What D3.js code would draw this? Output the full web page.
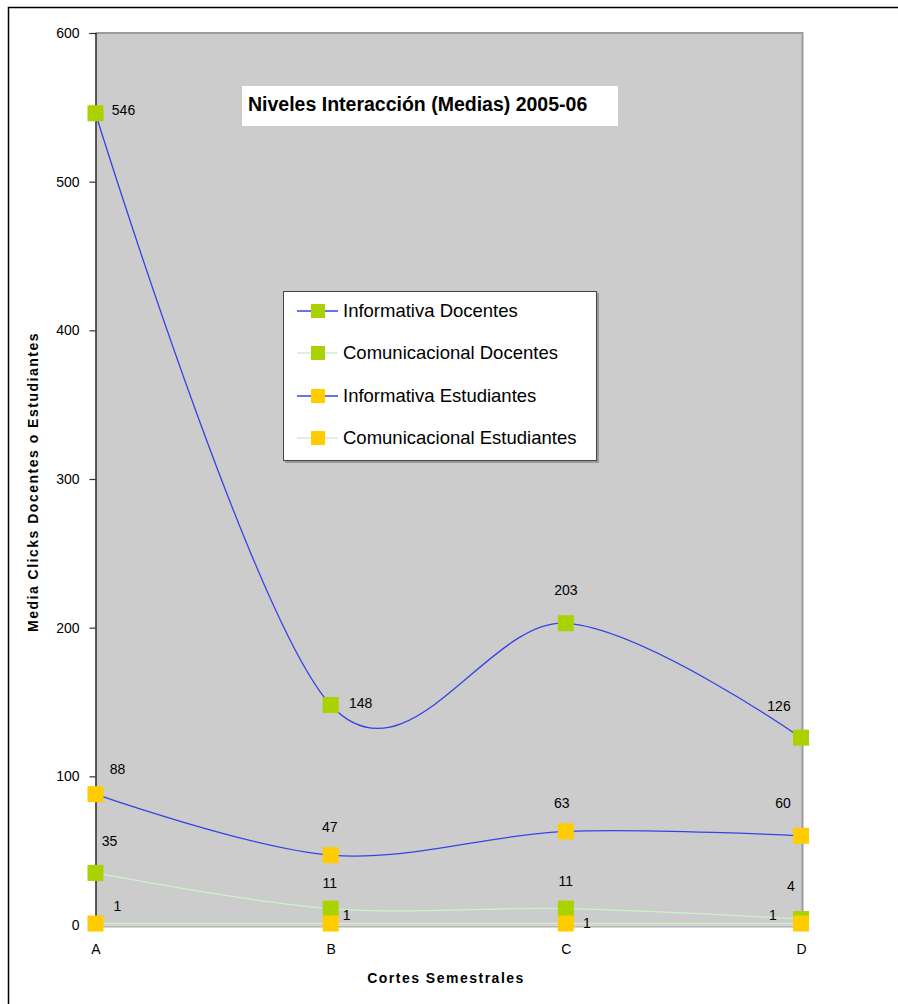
<!DOCTYPE html>
<html>
<head>
<meta charset="utf-8">
<script src="https://cdn.jsdelivr.net/npm/d3@7/dist/d3.min.js"></script>
<style>
  html, body { margin: 0; padding: 0; background: #fff; }
  svg { display: block; font-family: "Liberation Sans", Arial, sans-serif; }
</style>
</head>
<body>
<svg id="chart" width="898" height="1004"></svg>
<script>
// Semester cuts and mean clicks per interaction type
const categories = ["A", "B", "C", "D"];
const informativaDocentes = [546, 148, 203, 126];
const comunicacionalDocentes = [35, 11, 11, 4];
const informativaEstudiantes = [88, 47, 63, 60];
const comunicacionalEstudiantes = [1, 1, 1, 1];
const yTicks = [0, 100, 200, 300, 400, 500, 600];

const seriesNames = [
  "Informativa Docentes",
  "Comunicacional Docentes",
  "Informativa Estudiantes",
  "Comunicacional Estudiantes"
];
const seriesValues = [informativaDocentes, comunicacionalDocentes, informativaEstudiantes, comunicacionalEstudiantes];

// Styling per series
const lineColors = ["#3344E6", "#CCF2CC", "#3344E6", "#D4EEC4"];
const markerColors = ["#AAD200", "#AAD200", "#FFCC00", "#FFCC00"];
// Label offsets (dx, dy) from each marker centre
const labelOffsets = [
  [[28, -3], [30, -2], [0, -33], [-22, -32]],
  [[14, -32], [-1, -26], [0, -28], [-10, -33]],
  [[22, -25], [-1, -28], [-4, -28], [-18, -33]],
  [[22, -17], [16, -8], [21, 0], [-28, -8]]
];

const svg = d3.select("#chart");

// Outer chart frame
svg.append("rect")
  .attr("x", 8.5).attr("y", 7.5)
  .attr("width", 900).attr("height", 1000)
  .attr("fill", "none").attr("stroke", "#000").attr("stroke-width", 1.5);

const plot = { left: 95.5, right: 801, top: 33, bottom: 925 };

const x = d3.scalePoint().domain(categories).range([plot.left, plot.right]).padding(0);
const y = d3.scaleLinear().domain([0, 600]).range([plot.bottom, plot.top]);

// Plot area
svg.append("rect")
  .attr("x", plot.left).attr("y", plot.top)
  .attr("width", plot.right + 1 - plot.left).attr("height", plot.bottom - plot.top)
  .attr("fill", "#CCCCCC");
// Plot area border (top and right)
svg.append("path")
  .attr("d", `M${plot.left},${plot.top} H${plot.right + 1.5} V${plot.bottom + 1}`)
  .attr("fill", "none").attr("stroke", "#9C9C9C").attr("stroke-width", 2);
// Bottom edge
svg.append("line")
  .attr("x1", plot.left).attr("x2", plot.right + 2)
  .attr("y1", plot.bottom + 1.5).attr("y2", plot.bottom + 1.5)
  .attr("stroke", "#B4B4B4").attr("stroke-width", 2);

// Y axis
const yAxis = d3.axisLeft(y).tickValues(yTicks).tickSize(6).tickPadding(10).tickFormat(d3.format("d"));
const yG = svg.append("g").attr("transform", `translate(${plot.left},0)`).call(yAxis);
yG.select(".domain").attr("stroke", "#000").attr("stroke-width", 1.2);
yG.selectAll(".tick line").attr("stroke", "#333").attr("stroke-width", 1.2);
yG.selectAll(".tick text").attr("font-size", 14).attr("fill", "#000")
  .attr("font-family", "'Liberation Sans', Arial, sans-serif");

// X axis labels
const xAxis = d3.axisBottom(x).tickSize(0).tickPadding(19);
const xG = svg.append("g").attr("transform", `translate(0,${plot.bottom})`).call(xAxis);
xG.select(".domain").remove();
xG.selectAll(".tick text").attr("font-size", 14).attr("fill", "#000")
  .attr("font-family", "'Liberation Sans', Arial, sans-serif");

// Axis titles
svg.append("text")
  .attr("x", 446).attr("y", 983)
  .attr("text-anchor", "middle")
  .attr("font-size", 14).attr("font-weight", "bold")
  .attr("letter-spacing", 1.5)
  .text("Cortes Semestrales");
svg.append("text")
  .attr("transform", "translate(38,482) rotate(-90)")
  .attr("text-anchor", "middle")
  .attr("font-size", 14).attr("font-weight", "bold")
  .attr("letter-spacing", 1.5)
  .text("Media Clicks Docentes o Estudiantes");

// Smoothed series lines
const line = d3.line()
  .x((d, i) => x(categories[i]))
  .y(d => y(d))
  .curve(d3.curveCardinal.tension(0));

seriesValues.forEach((vals, s) => {
  svg.append("path")
    .datum(vals)
    .attr("d", line)
    .attr("fill", "none")
    .attr("stroke", lineColors[s])
    .attr("stroke-width", 1.3);
});

// Markers and value labels
const mSize = 16;
seriesValues.forEach((vals, s) => {
  const g = svg.append("g");
  g.selectAll("rect").data(vals).join("rect")
    .attr("x", (d, i) => x(categories[i]) - mSize / 2)
    .attr("y", d => y(d) - mSize / 2)
    .attr("width", mSize).attr("height", mSize)
    .attr("fill", markerColors[s]);
});
seriesValues.forEach((vals, s) => {
  svg.append("g").selectAll("text").data(vals).join("text")
    .attr("x", (d, i) => x(categories[i]) + labelOffsets[s][i][0])
    .attr("y", (d, i) => y(d) + labelOffsets[s][i][1])
    .attr("dy", "0.35em")
    .attr("text-anchor", "middle")
    .attr("font-size", 14)
    .attr("fill", "#000")
    .text(d => d);
});

// Title box
svg.append("rect")
  .attr("x", 242).attr("y", 86).attr("width", 376).attr("height", 40)
  .attr("fill", "#fff");
svg.append("text")
  .attr("x", 248).attr("y", 111)
  .attr("font-size", 19.5).attr("font-weight", "bold")
  .text("Niveles Interacción (Medias) 2005-06");

// Legend
const legend = svg.append("g");
legend.append("rect")
  .attr("x", 285).attr("y", 293).attr("width", 314).attr("height", 170)
  .attr("fill", "#9A9A9A");
legend.append("rect")
  .attr("x", 283.5).attr("y", 291.5).attr("width", 313).attr("height", 169)
  .attr("fill", "#fff").attr("stroke", "#444").attr("stroke-width", 1);
const rowY = [311, 353, 396, 438];
seriesNames.forEach((name, s) => {
  const ry = rowY[s];
  legend.append("line")
    .attr("x1", 297).attr("x2", 338).attr("y1", ry).attr("y2", ry)
    .attr("stroke", lineColors[s]).attr("stroke-width", 1.3);
  legend.append("rect")
    .attr("x", 311).attr("y", ry - 7).attr("width", 14).attr("height", 14)
    .attr("fill", markerColors[s]);
  legend.append("text")
    .attr("x", 343).attr("y", ry).attr("dy", "0.35em")
    .attr("font-size", 18.5)
    .text(name);
});
</script>
</body>
</html>
